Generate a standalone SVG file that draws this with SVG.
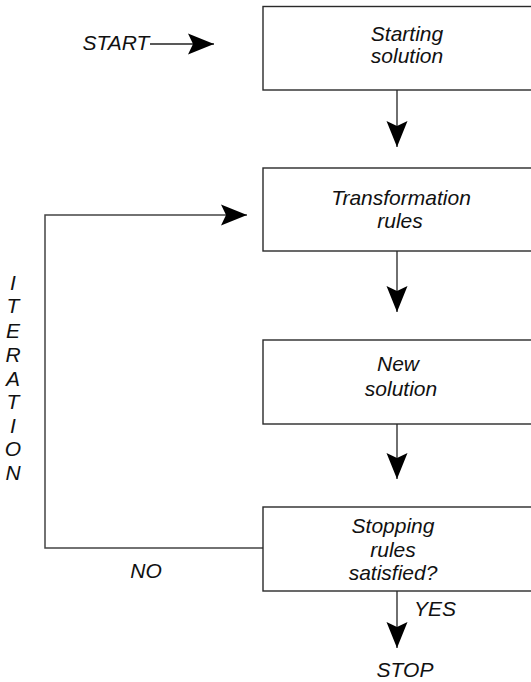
<svg xmlns="http://www.w3.org/2000/svg" width="531" height="682" viewBox="0 0 531 682">
  <style>
    .box { fill: #ffffff; stroke: #2a2a2a; stroke-width: 1.4; }
    .lbl { font-family: "Liberation Sans", Arial, sans-serif; font-style: italic; font-size: 21px; fill: #111111; text-anchor: middle; }
    .wire { fill: none; stroke: #222222; stroke-width: 1.3; }
    .loop { fill: none; stroke: #444444; stroke-width: 1.5; }
  </style>
  <defs>
    <marker id="head" viewBox="0 -11 26 22" markerWidth="26" markerHeight="22" refX="26" refY="0" markerUnits="userSpaceOnUse" orient="auto">
      <path d="M0,-10.5 L26,0 L0,10.5 L5,0 Z" fill="#000000"/>
    </marker>
  </defs>

  <rect width="531" height="682" fill="#ffffff"/>

  <!-- connectors -->
  <g id="connectors">
    <line class="wire" x1="150" y1="44" x2="214" y2="44" marker-end="url(#head)"/>
    <line class="wire" x1="397" y1="90" x2="397" y2="147" marker-end="url(#head)"/>
    <line class="wire" x1="397" y1="251" x2="397" y2="312" marker-end="url(#head)"/>
    <line class="wire" x1="397" y1="424" x2="397" y2="479" marker-end="url(#head)"/>
    <line class="wire" x1="397" y1="591" x2="397" y2="648" marker-end="url(#head)"/>
    <polyline class="loop" points="263,548 45,548 45,215 247,215" marker-end="url(#head)"/>
  </g>

  <!-- nodes -->
  <g id="start-solution">
    <rect class="box" x="263" y="6.5" width="300" height="83.5"/>
    <text class="lbl" x="407" y="41">Starting</text>
    <text class="lbl" x="407" y="63">solution</text>
  </g>

  <g id="transformation-rules">
    <rect class="box" x="263" y="168" width="300" height="83"/>
    <text class="lbl" x="401" y="205">Transformation</text>
    <text class="lbl" x="400" y="228">rules</text>
  </g>

  <g id="new-solution">
    <rect class="box" x="263" y="340" width="300" height="84"/>
    <text class="lbl" x="398" y="371">New</text>
    <text class="lbl" x="401" y="396">solution</text>
  </g>

  <g id="stopping-rules">
    <rect class="box" x="263" y="507" width="300" height="84"/>
    <text class="lbl" x="393" y="533">Stopping</text>
    <text class="lbl" x="393" y="557">rules</text>
    <text class="lbl" x="393" y="580">satisfied?</text>
  </g>

  <!-- free labels -->
  <g id="labels">
    <text class="lbl" x="116" y="50">START</text>
    <text class="lbl" x="146" y="578">NO</text>
    <text class="lbl" x="435" y="616">YES</text>
    <text class="lbl" x="405" y="677">STOP</text>
    <g id="iteration">
      <text class="lbl" x="13" y="290">I</text>
      <text class="lbl" x="13" y="313">T</text>
      <text class="lbl" x="13" y="338">E</text>
      <text class="lbl" x="13" y="362">R</text>
      <text class="lbl" x="13" y="386">A</text>
      <text class="lbl" x="13" y="409">T</text>
      <text class="lbl" x="13" y="433">I</text>
      <text class="lbl" x="13" y="456">O</text>
      <text class="lbl" x="13" y="480">N</text>
    </g>
  </g>
</svg>
